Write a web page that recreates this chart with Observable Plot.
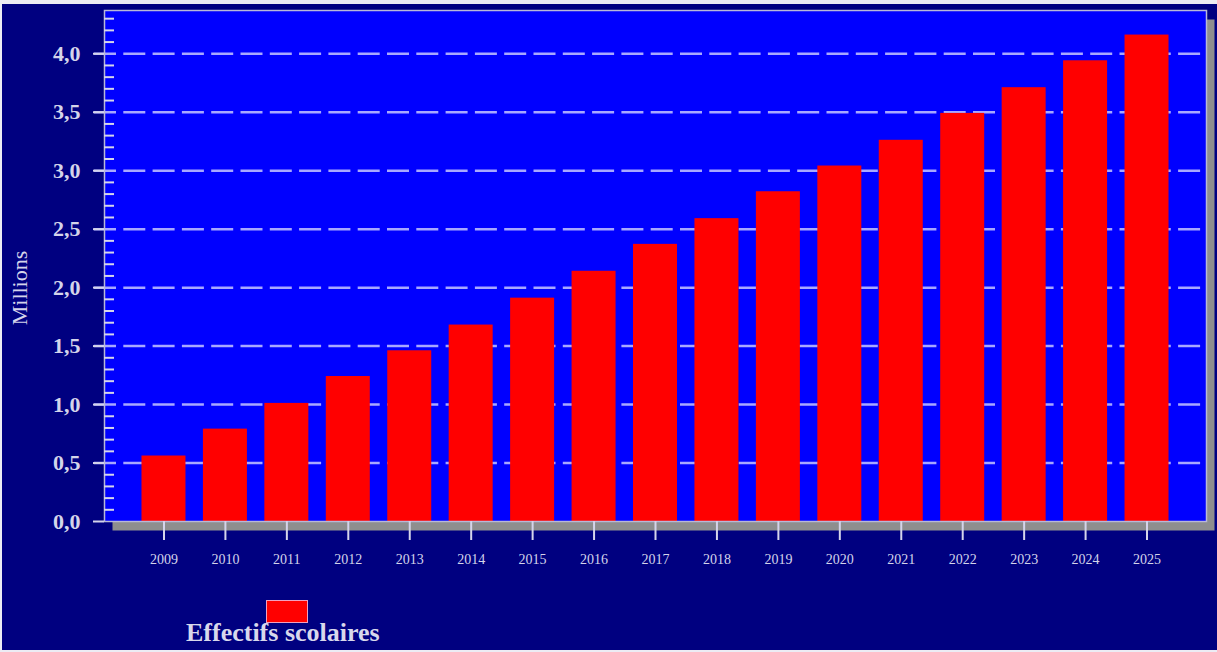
<!DOCTYPE html>
<html>
<head>
<meta charset="utf-8">
<script src="https://cdn.jsdelivr.net/npm/d3@7"></script>
<script src="https://cdn.jsdelivr.net/npm/@observablehq/plot@0.6"></script>
<style>
  html, body { margin: 0; padding: 0; background: #ececf4; }
  #wrap { position: absolute; left: 2px; top: 4px; width: 1215px; height: 646px; background: #000080; overflow: hidden; }
  #legend { position: relative; width: 1215px; height: 56px; font-family: "Liberation Serif", "Times New Roman", serif; }
  #legend .swatch { position: absolute; left: 264px; top: 6px; width: 40px; height: 21px; background: #ff0000; border: 1px solid #f0a0c0; }
  #legend .lab { position: absolute; left: 184px; top: 26px; font-size: 26px; line-height: 26px; font-weight: bold; color: #d8d8ec; white-space: nowrap; }
</style>
</head>
<body>
<div id="wrap"><div id="chart"></div><div id="legend"></div></div>
<script>
// ---- data ----
const years = ["2009","2010","2011","2012","2013","2014","2015","2016","2017","2018","2019","2020","2021","2022","2023","2024","2025"];
const values = [0.56, 0.79, 1.01, 1.24, 1.46, 1.68, 1.91, 2.14, 2.37, 2.59, 2.82, 3.04, 3.26, 3.49, 3.71, 3.94, 4.16];
const majorTicks = [0, 0.5, 1.0, 1.5, 2.0, 2.5, 3.0, 3.5, 4.0];
const majorTickLabels = ["0,0", "0,5", "1,0", "1,5", "2,0", "2,5", "3,0", "3,5", "4,0"];
const minorTicks = [0.1,0.2,0.3,0.4,0.6,0.7,0.8,0.9,1.1,1.2,1.3,1.4,1.6,1.7,1.8,1.9,2.1,2.2,2.3,2.4,2.6,2.7,2.8,2.9,3.1,3.2,3.3,3.4,3.6,3.7,3.8,3.9,4.1,4.2,4.3];
const yAxisLabel = "Millions";
const seriesLabel = "Effectifs scolaires";

const data = years.map((y, i) => ({year: y, value: values[i]}));
const serif = '"Liberation Serif", "Times New Roman", serif';
const light = "#d4d4ea";

const chart = Plot.plot({
  width: 1215,
  height: 590,
  marginLeft: 102,
  marginRight: 11,
  marginTop: 6,
  marginBottom: 73,
  style: {background: "transparent", color: light, fontFamily: serif, overflow: "visible"},
  x: {domain: years, paddingInner: 0.284, paddingOuter: 0.61, round: false, axis: null},
  y: {domain: [0, 4.37], axis: null},
  marks: [
    Plot.frame({fill: "#8e8e8e", dx: 8, dy: 9}),
    Plot.frame({fill: "#0000ff"}),
    Plot.ruleY(majorTicks.slice(1), {stroke: "#a8a8ff", strokeWidth: 2.5, strokeDasharray: "22,7.3", insetLeft: -10}),
    Plot.barY(data, {x: "year", y: "value", fill: "#ff0000"}),
    Plot.frame({stroke: "#b8b8d8", strokeWidth: 1.5}),
    Plot.axisY({ticks: minorTicks, tickSize: -10, tickFormat: () => "", stroke: light, strokeWidth: 2, label: null}),
    Plot.axisY({ticks: majorTicks, tickSize: 11, tickPadding: 13, tickFormat: d => majorTickLabels[majorTicks.indexOf(d)],
      fontSize: 22, fontWeight: "bold", stroke: light, strokeWidth: 2, fill: light, label: null}),
    Plot.axisX({tickSize: 19, tickPadding: 14, fontSize: 14, stroke: light, strokeWidth: 2, fill: light, label: null}),
    Plot.text([yAxisLabel], {frameAnchor: "left", textAnchor: "middle", dx: -85, dy: 22, rotate: -90, fontSize: 22, fill: light, text: d => d})
  ]
});
document.getElementById("chart").appendChild(chart);

const legend = document.getElementById("legend");
const sw = document.createElement("div"); sw.className = "swatch"; legend.appendChild(sw);
const lb = document.createElement("div"); lb.className = "lab"; lb.textContent = seriesLabel; legend.appendChild(lb);
</script>
</body>
</html>
